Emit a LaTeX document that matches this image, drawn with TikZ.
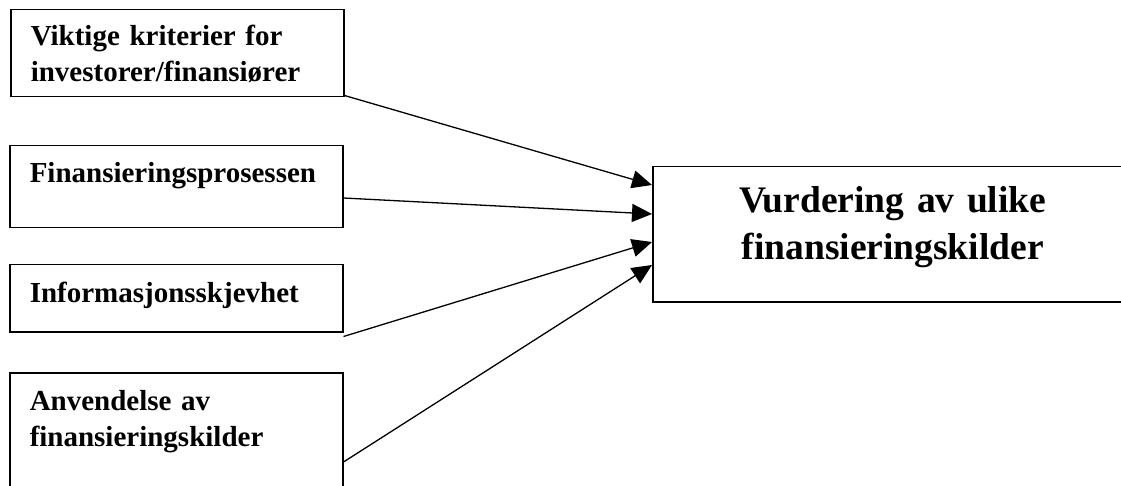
\documentclass[tikz,border=0pt]{standalone}
\usepackage{fontspec}
\setmainfont{Liberation Serif}
\usepackage{tikz}
\usetikzlibrary{arrows.meta}

\begin{document}
\begin{tikzpicture}[x=1pt,y=-1pt,
		faktor/.style={draw,line width=1.5pt,anchor=north west,inner ysep=0pt,inner xsep=20pt,
			text width=293pt,align=left,font=\fontsize{29}{36}\selectfont\bfseries},
		maal/.style={draw,line width=1.5pt,anchor=north west,inner sep=0pt,
			text width=480pt,align=center,font=\fontsize{37.5}{47}\selectfont\bfseries},
		pil/.style={line width=1.3pt,-{Triangle[length=20pt,width=18pt]}}]
		\def \bredde {1121};
		\def \hoyde {486};
		\useasboundingbox (0,0) rectangle (\bredde,\hoyde);
		\clip (0,0) rectangle (\bredde,\hoyde);
		% faktorer til venstre
		\node[faktor,text height=36pt,text depth=51pt] (krit) at (10,9) {Viktige kriterier for\\investorer/finansiører};
		\node[faktor,text height=37pt,text depth=45pt] (prosess) at (9,145) {Finansieringsprosessen};
		\node[faktor,text height=38pt,text depth=29pt] (info) at (9,264) {Informasjonsskjevhet};
		\node[faktor,text height=38pt,text depth=95pt] (anv) at (9,372) {Anvendelse av\\finansieringskilder};
		% vurderingen til hoyre
		\node[maal,text height=46pt,text depth=89pt] (vurd) at (652,166) {Vurdering av ulike\\finansieringskilder};
		\draw[pil] ([yshift=2pt]krit.south east) -- ([yshift=-19pt]vurd.north west);
		\draw[pil] ([yshift=-53pt]prosess.north east) -- ([yshift=-48pt]vurd.north west);
		\draw[pil] ([yshift=-4pt]info.south east) -- ([yshift=-76pt]vurd.north west);
		\draw[pil] ([yshift=-90pt]anv.north east) -- ([yshift=-99pt]vurd.north west);
	\end{tikzpicture}
\end{document}
